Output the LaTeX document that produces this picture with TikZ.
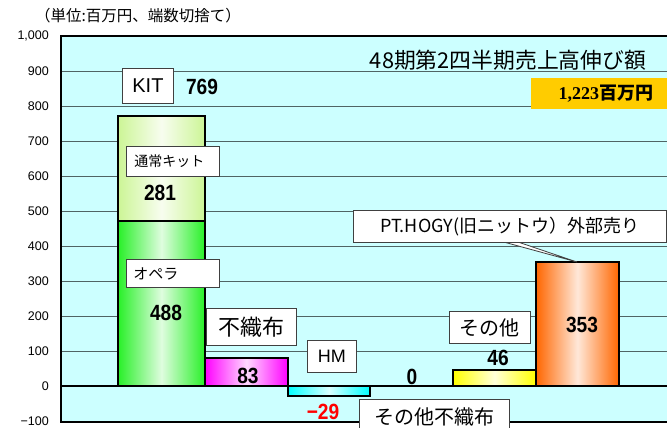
\documentclass[tikz,border=0pt]{standalone}
\usepackage{fontspec}
\usepackage{graphicx}
\setmainfont{Liberation Sans}
\newfontfamily\jp{Noto Sans CJK JP}
\newfontfamily\tnr{Liberation Serif}
\definecolor{bgc}{RGB}{204,255,255}
\definecolor{gridc}{RGB}{80,100,100}
\definecolor{lgreen}{RGB}{204,245,150}
\definecolor{green}{RGB}{40,240,40}
\definecolor{mag}{RGB}{255,0,255}
\definecolor{cyn}{RGB}{0,255,255}
\definecolor{yel}{RGB}{255,255,0}
\definecolor{org}{RGB}{255,102,0}
\definecolor{gold}{RGB}{255,204,0}
\newcommand{\nm}[1]{{\fontsize{22}{22}\selectfont\bfseries\scalebox{0.87}[1]{#1}}}
\tikzset{
  grid/.style={draw=gridc, line width=0.9pt},
  bar/.style={draw=black, line width=1.8pt, left color=#1, right color=#1, middle color=white!85!#1},
  lbl/.style={draw=black!75, fill=white, line width=0.9pt, anchor=north west, inner sep=0pt},
  ticklbl/.style={anchor=east, font=\fontsize{12.5}{12.5}\selectfont, inner sep=0pt},
}
\begin{document}
\begin{tikzpicture}[x=1pt,y=-1pt]
\useasboundingbox (0,0) rectangle (667,428);
% plot background
\fill[bgc] (60,36) rectangle (667,422);
\foreach \y in {71,106,...,351} \draw[grid] (61,\y) -- (667,\y);
% tick labels
\foreach \t [count=\i from 0] in {{1,000},900,800,700,600,500,400,300,200,100,0,−100}
  \node[ticklbl] (tick\i) at (49,36+35*\i) {\t};
% caption
\node[font=\jp\fontsize{15.5}{15.5}\selectfont, inner sep=0pt] (unit) at (138,16) {（単位:百万円、端数切捨て）};
% bars
\draw[bar=lgreen] (118,116) rectangle (205,221);
\draw[bar=green] (118,221) rectangle (205,386);
\draw[bar=mag] (205,358) rectangle (288,386);
\draw[bar=cyn] (288,386) rectangle (370,396);
\draw[bar=yel] (453,370) rectangle (536,386);
\draw[bar=org] (536,262) rectangle (619,386);
% axes
\draw[line width=2.5pt] (667,36) -- (61,36) -- (61,422) -- (667,422);
\draw[line width=2pt] (61,386) -- (667,386);
% title and total
\node[font=\jp\fontsize{21.8}{21.8}\selectfont, inner sep=0pt] (title) at (508,60) {48期第2四半期売上高伸び額};
\node[fill=gold, anchor=north west, minimum height=31, inner ysep=0pt, inner xsep=14pt, text width=108, align=right] (total) at (531,78)
  {{\tnr\bfseries\fontsize{18}{18}\selectfont 1,223}{\jp\bfseries\fontsize{18}{18}\selectfont 百万円}};
% labels
\node[lbl, minimum width=51, minimum height=35, font=\fontsize{20}{20}\selectfont] (kit) at (122,68) {KIT};
\node (v769) at (202,87) {\nm{769}};
\node[lbl, minimum height=30, inner xsep=8pt, text width=77, align=left, font=\jp\fontsize{14}{14}\selectfont] (tsujo) at (126,146) {通常キット};
\node (v281) at (160,193) {\nm{281}};
\node[lbl, minimum height=28, inner xsep=7pt, text width=79, align=left, font=\jp\fontsize{15}{15}\selectfont] (opera) at (126,259) {オペラ};
\node (v488) at (166,313) {\nm{488}};
\node[lbl, minimum width=90, minimum height=37, font=\jp\fontsize{22}{22}\selectfont] (fushokufu) at (206,308) {不織布};
\node (v83) at (248,376) {\nm{83}};
\node[lbl, minimum width=49, minimum height=32, font=\fontsize{18}{18}\selectfont] (hm) at (307,340) {HM};
\node[text=red] (v29) at (323,412) {\nm{−29}};
\node (v0) at (412,377) {\nm{0}};
\node[lbl, minimum width=150, minimum height=36, font=\jp\fontsize{20}{20}\selectfont, text depth=0pt] (sonotaf) at (359,399) {\raisebox{3pt}{その他不織布}};
\node (v46) at (498,358) {\nm{46}};
\node[lbl, minimum width=81, minimum height=32, font=\jp\fontsize{20}{20}\selectfont] (sonota) at (449,311) {その他};
\node (v353) at (582,325) {\nm{353}};
% callout
\coordinate (ptA) at (500,241);
\coordinate (ptB) at (515,241);
\coordinate (ptTip) at (577,262);
\filldraw[fill=white, draw=black!75, line width=0.8pt] (ptA) -- (ptTip) -- (ptB);
\node[lbl, minimum width=313, minimum height=32, font=\jp\fontsize{18}{18}\selectfont] (pt) at (353,210) {PT.HOGY(旧ニットウ）外部売り};
\end{tikzpicture}
\end{document}
